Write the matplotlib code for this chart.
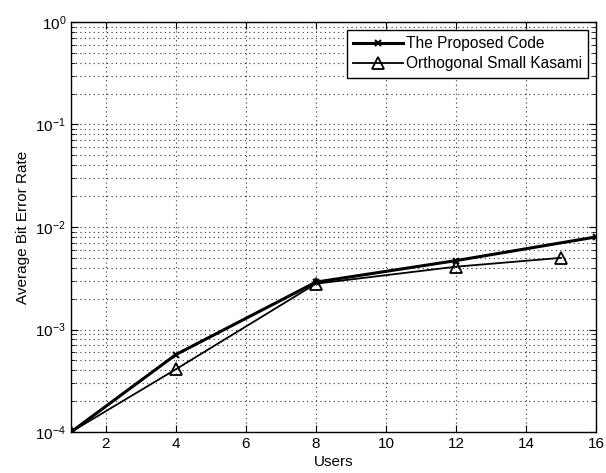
import matplotlib
matplotlib.use("Agg")
import matplotlib.pyplot as plt
from matplotlib.ticker import LogLocator, FixedLocator

plt.rcParams['font.family'] = ['Liberation Sans', 'DejaVu Sans']
plt.rcParams['mathtext.fontset'] = 'custom'
plt.rcParams['mathtext.rm'] = 'Liberation Sans'

users_prop = [1, 4, 8, 12, 16]
ber_prop = [1e-4, 5.7e-4, 2.9e-3, 4.7e-3, 8.0e-3]
users_kas = [1, 4, 8, 12, 15]
ber_kas = [1e-4, 4.1e-4, 2.8e-3, 4.1e-3, 5.0e-3]
xticks = [2, 4, 6, 8, 10, 12, 14, 16]

fig = plt.figure(figsize=(6.06, 4.73), dpi=100)
ax = fig.add_axes([71/606, 1-432/473, (596-71)/606, (432-22)/473])

ax.semilogy(users_prop, ber_prop, color='black', lw=2.2, marker='x', ms=5, mew=1.5,
            label='The Proposed Code')
ax.semilogy(users_kas, ber_kas, color='black', lw=1.3, marker='^', ms=8, mfc='none', mew=1.3,
            label='Orthogonal Small Kasami')

ax.set_xlim(1, 16)
ax.set_ylim(1e-4, 1)
ax.xaxis.set_major_locator(FixedLocator(xticks))
ax.yaxis.set_major_locator(LogLocator(base=10, numticks=10))
ax.yaxis.set_minor_locator(LogLocator(base=10, subs=range(2, 10), numticks=20))
grid_kw = dict(linestyle=(0, (1, 3)), color='#333333', lw=0.8)
ax.grid(True, which='major', **grid_kw)
ax.grid(True, which='minor', axis='y', **grid_kw)
ax.tick_params(which='both', direction='in', top=True, right=True, labelsize=11)
ax.tick_params(which='major', length=5)
ax.tick_params(which='minor', length=3)
for s in ax.spines.values():
    s.set_linewidth(1.0)

ax.set_xlabel('Users', fontsize=11, labelpad=3)
ax.set_ylabel('Average Bit Error Rate', fontsize=11, labelpad=4)

leg = ax.legend(loc='upper right', fontsize=11.2, fancybox=False, framealpha=1,
                edgecolor='black', handlelength=3.2, borderpad=0.4, labelspacing=0.35,
                handletextpad=0.2, borderaxespad=0.5)
leg.get_frame().set_linewidth(1.0)

fig.savefig('out.png', dpi=100)
